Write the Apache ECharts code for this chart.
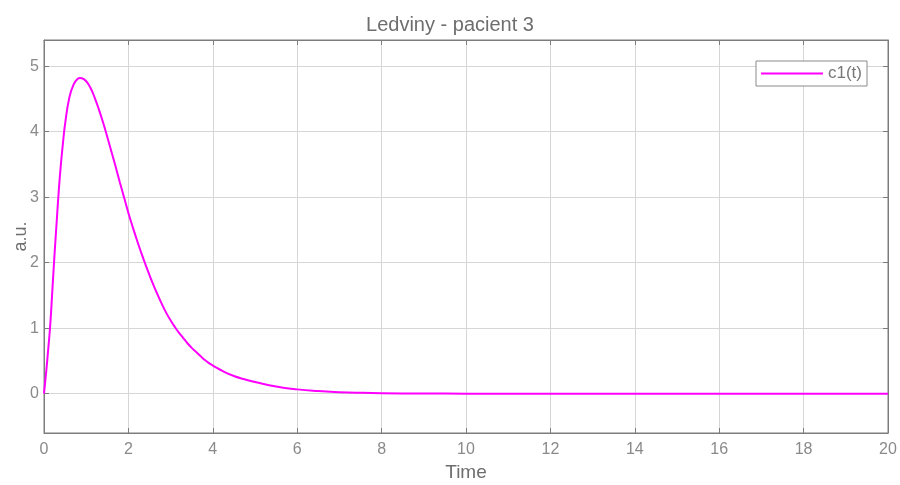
<!DOCTYPE html>
<html>
<head>
<meta charset="utf-8">
<script src="https://cdn.jsdelivr.net/npm/echarts@6/dist/echarts.min.js"></script>
<style>html,body{margin:0;padding:0;background:#fff}#c{width:900px;height:485px}</style>
</head>
<body>
<div id="c"></div>
<script>
var titleText = 'Ledviny - pacient 3';
var seriesName = 'c1(t)';
var xName = 'Time';
var yName = 'a.u.';
var times = [0,0.05,0.1,0.15,0.2,0.25,0.3,0.35,0.4,0.45,0.5,0.6,0.7,0.8,0.85,0.9,1.0,1.1,1.2,1.3,1.4,1.5,1.6,1.7,1.8,1.9,2.0,2.1,2.2,2.3,2.4,2.5,2.6,2.7,2.8,2.9,3.0,3.1,3.2,3.3,3.4,3.5,3.6,3.7,3.8,3.9,4.0,4.25,4.5,4.75,5.0,5.5,6.0,6.5,7.0,7.5,8.0,9.0,10,11,12,13,14,15,16,17,18,19,20];
var values = [0,0.32,0.68,1.07,1.6,2.13,2.62,3.1,3.5,3.83,4.12,4.52,4.72,4.81,4.82,4.815,4.77,4.67,4.52,4.34,4.14,3.92,3.69,3.46,3.22,2.99,2.76,2.55,2.35,2.16,1.98,1.81,1.65,1.50,1.36,1.23,1.12,1.02,0.93,0.85,0.77,0.70,0.64,0.58,0.52,0.47,0.43,0.34,0.27,0.22,0.18,0.11,0.066,0.04,0.024,0.014,0.008,0.003,0.001,0,0,0,0,0,0,0,0,0,0];
var xMin = 0, xMax = 20, xStep = 2;
var yMin = -0.6, yMax = 5.4;

var pts = times.map(function(t,i){return [t, values[i]];});
var font = '"Liberation Sans", Arial, sans-serif';
var gray = '#8a8a8a';
var axisCol = '#7d7d7d';
var chart = echarts.init(document.getElementById('c'), null, {renderer:'canvas'});
chart.setOption({
  animation:false,
  title:{text:titleText,left:'center',top:15,padding:0,textStyle:{fontFamily:font,fontSize:20,fontWeight:'normal',color:'#6e6e6e'}},
  legend:{data:[seriesName],right:33,top:61,orient:'vertical',icon:'rect',itemWidth:62,itemHeight:2,itemGap:0,
    padding:[4,5,4,5],backgroundColor:'#fff',borderColor:'#8a8a8a',borderWidth:1,
    textStyle:{fontFamily:font,fontSize:17,color:'#777'}},
  grid:{left:44,right:12,top:40,bottom:52,containLabel:false,outerBoundsMode:'none',show:true,borderColor:axisCol,borderWidth:1,backgroundColor:'#fff'},
  xAxis:[{type:'value',min:xMin,max:xMax,interval:xStep,name:xName,nameLocation:'middle',nameGap:26,
    nameTextStyle:{fontFamily:font,fontSize:19,color:'#6e6e6e'},
    axisLine:{show:true,onZero:false,lineStyle:{color:axisCol}},
    axisTick:{show:true,inside:true,length:5,lineStyle:{color:axisCol}},
    axisLabel:{fontFamily:font,fontSize:16,color:gray,margin:9},
    splitLine:{show:true,lineStyle:{color:'#d6d6d6',width:1}}},
   {type:'value',position:'top',min:xMin,max:xMax,interval:xStep,
    axisLine:{show:true,onZero:false,lineStyle:{color:axisCol}},
    axisTick:{show:true,inside:true,length:5,lineStyle:{color:axisCol}},
    axisLabel:{show:false},splitLine:{show:false}}],
  yAxis:[{type:'value',min:yMin,max:yMax,splitNumber:6,name:yName,nameLocation:'middle',nameGap:14,nameRotate:90,nameMoveOverlap:false,
    nameTextStyle:{fontFamily:font,fontSize:18,color:'#6e6e6e'},
    axisLine:{show:true,onZero:false,lineStyle:{color:axisCol}},
    axisTick:{show:true,inside:true,length:5,lineStyle:{color:axisCol}},
    axisLabel:{fontFamily:font,fontSize:16,color:gray,margin:5,showMinLabel:false,showMaxLabel:false,
      formatter:function(v){return Math.abs(v-Math.round(v))<1e-6?String(Math.round(v)):'';}},
    splitLine:{show:true,lineStyle:{color:'#d6d6d6',width:1}}},
   {type:'value',position:'right',min:yMin,max:yMax,splitNumber:6,
    axisLine:{show:true,onZero:false,lineStyle:{color:axisCol}},
    axisTick:{show:true,inside:true,length:5,lineStyle:{color:axisCol}},
    axisLabel:{show:false},splitLine:{show:false}}],
  series:[{name:seriesName,type:'line',data:pts,smooth:0.5,showSymbol:false,symbol:'none',
    lineStyle:{color:'#ff00ff',width:2},itemStyle:{color:'#ff00ff'}}]
});
</script>
</body>
</html>
